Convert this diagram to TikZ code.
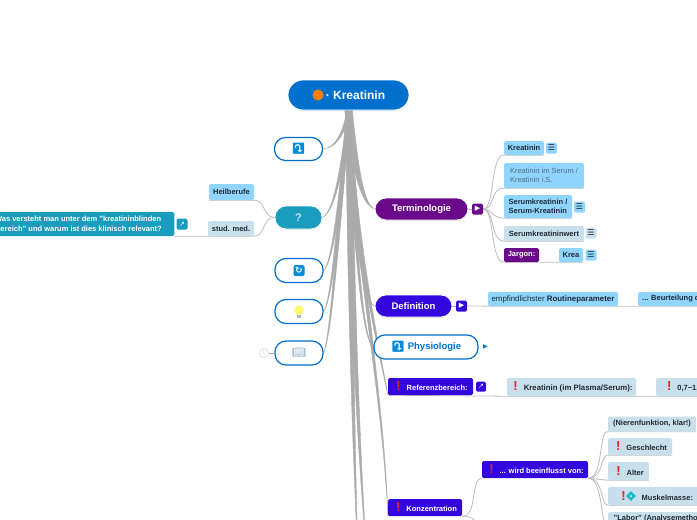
\documentclass[tikz,border=0pt]{standalone}
\usepackage{fontspec}
\setmainfont{Liberation Sans}
\newfontfamily\symfont{DejaVu Sans}
\newfontfamily\emojifont{Noto Emoji}
\usetikzlibrary{calc,backgrounds,shadows,shapes.geometric}
\definecolor{rootblue}{HTML}{0070CC}
\definecolor{deepblue}{HTML}{3206DC}
\definecolor{purplebox}{HTML}{6A0A8A}
\definecolor{tealbox}{HTML}{1A9CBF}
\definecolor{skybox}{HTML}{90D5FF}
\definecolor{paleblue}{HTML}{C8DFEC}
\definecolor{limbgray}{HTML}{ABABAB}
\definecolor{twiggray}{HTML}{BDBDBD}
\definecolor{inkdark}{HTML}{1F2A33}
\definecolor{alertred}{HTML}{E8202A}
\tikzset{
  bigbox/.style={rounded corners=11pt,inner sep=0pt,draw=white,line width=.8pt,
    drop shadow={shadow xshift=0pt,shadow yshift=-1pt,opacity=.18},text=white,font=\fontsize{9.5}{11}\selectfont\bfseries},
  outlinebox/.style={rounded corners=11pt,inner sep=0pt,draw=rootblue,line width=1.2pt,fill=white,
    text=rootblue,font=\fontsize{9.5}{11}\selectfont\bfseries},
  smallbox/.style={rounded corners=1.5pt,inner sep=0pt,align=center,text=inkdark,
    font=\fontsize{7.5}{9.6}\selectfont\bfseries},
  skyitem/.style={smallbox,fill=skybox},
  paleitem/.style={smallbox,fill=paleblue},
  deepitem/.style={smallbox,fill=deepblue,text=white},
  iconbox/.style={rounded corners=1.5pt,inner sep=0pt,minimum size=11pt,text=white,
    font=\symfont\fontsize{7}{7}\selectfont},
  menuicon/.style={iconbox,text=inkdark,font=\symfont\fontsize{8}{8}\selectfont},
  bendicon/.style={inner sep=0pt,text=rootblue!80!cyan,font=\emojifont\fontsize{11}{11}\selectfont},
  limb/.style={draw=limbgray,fill=limbgray,line width=.4pt},
  twig/.style={draw=twiggray,line width=.8pt}
}
\newcommand{\limb}[4]{\draw[limb] ($(root.south)+(-#1,0)$) .. controls ($#3+(-#1,0)$) and ($#4+(-.5*#1,0)$) .. (#2) .. controls ($#4+(.5*#1,0)$) and ($#3+(#1,0)$) .. ($(root.south)+(#1,0)$) -- cycle;}
\newcommand{\alert}{\hspace{3pt}{\color{alertred}\fontsize{13}{9}\selectfont !}\hspace{6pt}}
\begin{document}
\begin{tikzpicture}[x=1pt,y=-1pt]
  \useasboundingbox (0,0) rectangle (697,520);
  % main branches
  \node[bigbox,fill=rootblue,minimum width=121pt,minimum height=30pt,rounded corners=15pt,font=\fontsize{12}{14}\selectfont\bfseries] (root) at (348.5,95) {\hspace{14pt}· Kreatinin};
  \node[circle,fill=orange,inner sep=0pt,minimum size=11pt] (rootdot) at (318,95) {};
  \node[outlinebox,minimum width=48pt,minimum height=23pt] (arrowbr) at (298.5,149) {};
  \node[bendicon] (arrowicon) at (298.5,149) {⤵};
  \node[bigbox,fill=tealbox,minimum width=47pt,minimum height=23pt,text=white!75!tealbox,font=\fontsize{11}{12}\selectfont\bfseries] (quest) at (298.5,217.5) {?};
  \node[outlinebox,minimum width=48pt,minimum height=24pt] (syncbr) at (299,270.5) {};
  \node[iconbox,fill=rootblue!80!cyan,font=\symfont\bfseries\fontsize{9}{9}\selectfont] (syncicon) at (299,270.5) {↻};
  \node[outlinebox,minimum width=48pt,minimum height=24pt] (bulbbr) at (299,311.5) {};
  \node[circle,fill=yellow!55,inner sep=0pt,minimum size=9.5pt] (bulbicon) at (299,310) {};
  \node[fill=gray!55,inner sep=0pt,minimum width=3.5pt,minimum height=3pt] (bulbbase) at (299,316.5) {};
  \node[outlinebox,minimum width=48pt,minimum height=24pt] (bookbr) at (299,353) {};
  \node[text=rootblue!45!gray!70,inner sep=0pt,font=\emojifont\fontsize{11}{11}\selectfont] (bookicon) at (299,353) {📖};
  \node[circle,draw=gray!40,text=gray!60,inner sep=0pt,minimum size=9pt,font=\fontsize{4}{4}\selectfont] (bookcount) at (264,353) {1};
  \node[bigbox,fill=purplebox,minimum width=93pt,minimum height=22pt] (termin) at (421.5,209) {Terminologie};
  \node[iconbox,fill=purplebox] (terminicon) at (477.5,209) {▶};
  \node[bigbox,fill=deepblue,minimum width=77pt,minimum height=22pt] (defin) at (413.5,306) {Definition};
  \node[iconbox,fill=deepblue] (definicon) at (461.5,306) {▶};
  \node[outlinebox,minimum width=104pt,minimum height=24pt] (physio) at (426,347) {\hspace{17pt}Physiologie};
  \node[bendicon] (physioicon) at (398,347) {⤵};
  \node[inner sep=0pt,text=rootblue,font=\symfont\fontsize{6}{6}\selectfont] (physioarrow) at (485.5,347) {▶};
  % left side
  \node[skyitem,minimum width=45pt,minimum height=16pt] (heilb) at (231.5,192) {Heilberufe};
  \node[paleitem,minimum width=46pt,minimum height=15pt] (stud) at (231,228.5) {stud. med.};
  \node[smallbox,fill=tealbox,text=white,anchor=east,minimum height=24pt,align=left,inner xsep=12.5pt] (blindq) at (174.5,224) {Was versteht man unter dem "kreatininblinden\\Bereich" und warum ist dies klinisch relevant?};
  \node[iconbox,fill=tealbox] (blindicon) at (182,224) {↗};
  % terminology
  \node[skyitem,minimum width=40pt,minimum height=14pt] (kreat) at (524,148) {Kreatinin};
  \node[menuicon,fill=skybox] (kreaticon) at (551.5,148) {☰};
  \node[skyitem,minimum width=80pt,minimum height=25pt,align=left,text=inkdark!60!skybox,font=\fontsize{7.5}{9.6}\selectfont] (serum) at (544,175.5) {Kreatinin im Serum /\\Kreatinin i.S.};
  \node[skyitem,minimum width=68pt,minimum height=23pt,align=left] (skreat) at (538,206.5) {Serumkreatinin /\\Serum-Kreatinin};
  \node[menuicon,fill=skybox] (skreaticon) at (579.5,207) {☰};
  \node[paleitem,minimum width=80pt,minimum height=15pt] (swert) at (544,233.5) {Serumkreatininwert};
  \node[menuicon,fill=paleblue] (swerticon) at (591,233) {☰};
  \node[smallbox,fill=purplebox,text=white,minimum width=35pt,minimum height=14pt] (jargon) at (521.5,255) {Jargon:};
  \node[skyitem,minimum width=24pt,minimum height=14pt] (krea) at (571,255) {Krea};
  \node[menuicon,fill=skybox] (kreaicon) at (591,255) {☰};
  % definition
  \node[skyitem,minimum width=130pt,minimum height=14pt,font=\fontsize{7.9}{9.6}\selectfont] (routine) at (553,299) {empfindlichster \textbf{Routineparameter}};
  \node[skyitem,anchor=west,minimum width=62pt,minimum height=14pt,inner xsep=4pt] (beurt) at (638,299) {... Beurteilung d};
  % reference range
  \node[deepitem,minimum width=85pt,minimum height=17pt] (refer) at (430.5,386.5) {\alert Referenzbereich:};
  \node[iconbox,fill=deepblue,minimum size=10pt] (refericon) at (481,386.5) {↗};
  \node[paleitem,minimum width=129pt,minimum height=18pt,font=\fontsize{7.8}{9.6}\selectfont\bfseries] (plasma) at (571.5,387) {\alert Kreatinin (im Plasma/Serum):};
  \node[paleitem,anchor=west,minimum height=18pt,minimum width=50pt,inner xsep=3pt] (wertbox) at (656,387) {\alert 0,7−1,};
  % concentration
  \node[deepitem,minimum width=74pt,minimum height=17pt] (konz) at (425,507.5) {\alert Konzentration};
  \node[deepitem,minimum width=106pt,minimum height=17pt] (beein) at (535,469.5) {\alert ... wird beeinflusst von:};
  \node[paleitem,minimum width=88pt,minimum height=15pt] (nieren) at (652,424) {(Nierenfunktion, klar!)};
  \node[paleitem,minimum width=64pt,minimum height=17pt] (geschl) at (640,446.5) {\alert Geschlecht};
  \node[paleitem,minimum width=41pt,minimum height=18pt] (alter) at (628.5,471) {\alert Alter};
  \node[paleitem,anchor=west,minimum width=95pt,minimum height=18pt,inner xsep=8pt] (muskel) at (608,496) {\alert\hspace{10pt}Muskelmasse:};
  \node[diamond,fill=tealbox!70!cyan,inner sep=0pt,minimum size=10pt] (muskelicon) at (631,496) {};
  \node[circle,fill=yellow!70,inner sep=0pt,minimum size=2.5pt] (muskeldot) at (631,496) {};
  \node[paleitem,anchor=west,minimum width=95pt,minimum height=14pt,inner xsep=4pt] (labor) at (608,519) {"Labor" (Analysemetho};
  % off page ends
  \coordinate (offa) at (358,560);
  \coordinate (offb) at (367,560);
  \coordinate (offc) at (482,535);
  \begin{scope}[on background layer]
    \limb{1.6}{arrowbr.east}{(345,130)}{(337,148)}
    \limb{1.6}{quest.east}{(344,160)}{(335,212)}
    \limb{1.8}{syncbr.east}{(343,175)}{(334,262)}
    \limb{1.8}{bulbbr.east}{(342,185)}{(333,300)}
    \limb{1.8}{bookbr.east}{(341,195)}{(332,335)}
    \limb{3.8}{termin.west}{(353,150)}{(360,205)}
    \limb{1.6}{defin.west}{(354,205)}{(360,302)}
    \limb{1.6}{physio.west}{(354,230)}{(362,342)}
    \limb{2}{refer.south west}{(355,250)}{(380,352)}
    \limb{2}{konz.south west}{(355,250)}{(384,400)}
    \limb{2.8}{offa}{(350,280)}{(353,430)}
    \limb{2.8}{offb}{(352,280)}{(357,430)}
    % terminology fan
    \draw[twig] (terminicon.east) .. controls (495,209) and (490,155) .. (kreat.south west) -- (kreat.south east);
    \draw[twig] (terminicon.east) .. controls (495,209) and (490,188) .. (serum.south west) -- (serum.south east);
    \draw[twig] (terminicon.east) .. controls (492,209) and (492,218) .. (skreat.south west) -- (skreat.south east);
    \draw[twig] (terminicon.east) .. controls (495,209) and (490,241) .. (swert.south west) -- (swert.south east);
    \draw[twig] (terminicon.east) .. controls (495,209) and (490,262) .. (jargon.south west) -- (krea.south east);
    \draw[line width=1pt,draw=limbgray] (termin.east) -- (terminicon.west);
    % question fan
    \draw[twig] (quest.west) .. controls (262,217) and (266,200) .. (heilb.south east) -- (heilb.south west);
    \draw[twig] (quest.west) .. controls (262,217) and (266,236) .. (stud.south east) -- (blindq.south east);
    \draw[line width=1pt,draw=limbgray] (bookcount.east) -- (bookbr.west);
    % definition line
    \draw[twig] (definicon.east) .. controls (475,306) and (480,306) .. (routine.south west) -- (beurt.south west) -- (beurt.south east);
    \draw[line width=1pt,draw=limbgray] (defin.east) -- (definicon.west);
    % reference line
    \draw[twig] (refer.south west) -- (plasma.south west) -- (wertbox.south west) -- (wertbox.south east);
    % concentration fan
    \draw[twig] (konz.south east) .. controls (478,516) and (470,479) .. (beein.south west);
    \draw[twig] (konz.south east) .. controls (478,516) and (476,525) .. (offc);
    \draw[twig] (beein.south east) .. controls (604,478) and (598,431) .. (nieren.south west) -- (nieren.south east);
    \draw[twig] (beein.south east) .. controls (604,478) and (600,455) .. (geschl.south west) -- (geschl.south east);
    \draw[twig] (beein.south east) -- (alter.south west) -- (alter.south east);
    \draw[twig] (beein.south east) .. controls (604,478) and (600,505) .. (muskel.south west) -- (muskel.south east);
    \draw[twig] (beein.south east) .. controls (604,478) and (600,530) .. (labor.south west);
  \end{scope}
\end{tikzpicture}
\end{document}
